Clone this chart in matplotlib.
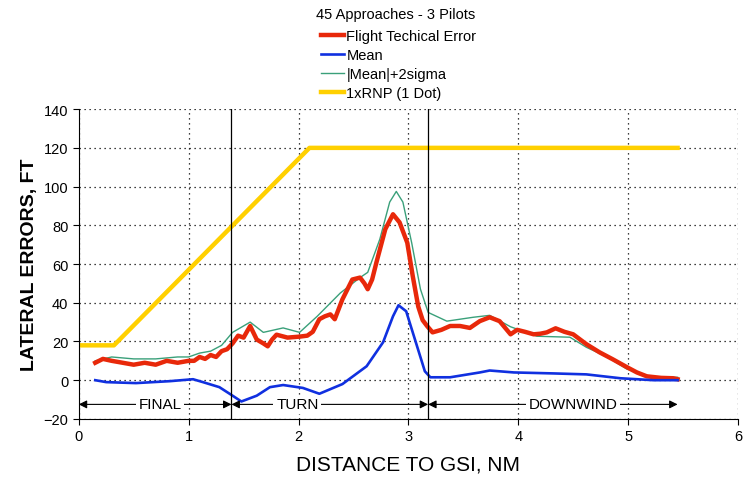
import matplotlib
matplotlib.use("Agg")
import matplotlib.pyplot as plt

plt.rcParams['font.family'] = ['Liberation Sans', 'DejaVu Sans']

# Flight Technical Error
fte_x = [0.15, 0.22, 0.3, 0.4, 0.5, 0.6, 0.7, 0.8, 0.9, 1.0, 1.05, 1.1, 1.15, 1.2, 1.25, 1.3, 1.35, 1.4, 1.45, 1.5, 1.56,
         1.62, 1.68, 1.72, 1.76, 1.8, 1.9, 2.01, 2.08, 2.13, 2.19, 2.24, 2.29, 2.33, 2.4, 2.49, 2.56, 2.6, 2.63, 2.67,
         2.71, 2.79, 2.86, 2.92, 2.99, 3.04, 3.09, 3.13, 3.17, 3.22, 3.3, 3.38, 3.47, 3.56, 3.65, 3.74, 3.83, 3.93,
         3.99, 4.06, 4.14, 4.2, 4.26, 4.34, 4.42, 4.5, 4.62, 4.74, 4.86, 4.99, 5.08, 5.17, 5.3, 5.41, 5.45]
fte_y = [9, 11, 10, 9, 8, 9, 8, 10, 9, 10, 10, 12, 11, 13, 12, 15, 16, 19, 23, 22, 28,
         21, 19, 17.5, 21, 23.5, 22, 22.5, 23, 25, 31.5, 33, 34, 31.5, 41.8, 52, 53, 50, 47, 52,
         61, 78, 85.7, 81.5, 71, 53.7, 38, 31, 28, 24.7, 26, 28, 28, 27, 30.5, 32.5, 30.5, 23.7,
         26, 25, 23.7, 24, 24.7, 26.8, 25, 23.7, 18.6, 14.4, 10.8, 6.7, 4, 2, 1.2, 1, 0.5]

# Mean
mean_x = [0.15, 0.25, 0.52, 0.83, 1.04, 1.13, 1.28, 1.4, 1.48, 1.62, 1.74, 1.86, 2.04, 2.19, 2.4, 2.62, 2.77, 2.86,
          2.91, 2.98, 3.06, 3.15, 3.2, 3.38, 3.65, 3.74, 3.96, 4.32, 4.62, 4.93, 5.23, 5.45]
mean_y = [0, -1, -1.5, -0.5, 0.5, -1, -3.6, -8, -11, -8, -3.6, -2.5, -4, -7, -2, 7.2, 19.6, 33,
          38.7, 35.6, 21, 4.6, 1.5, 1.5, 4, 5, 4, 3.5, 3, 1, 0, 0]

# |Mean|+2sigma
sig_x = [0.15, 0.3, 0.5, 0.7, 0.9, 1.0, 1.1, 1.2, 1.3, 1.4, 1.56, 1.68, 1.86, 2.01, 2.17, 2.38, 2.56, 2.63, 2.74,
         2.83, 2.89, 2.95, 3.03, 3.11, 3.18, 3.35, 3.59, 3.74, 3.93, 4.17, 4.47, 4.62, 4.81, 4.99, 5.23, 5.45]
sig_y = [10, 12, 11, 11, 12, 12, 14, 15, 18, 24.7, 30, 24.7, 27, 24.7, 33, 45, 53, 55.7, 72.8,
         92, 97.5, 92, 71, 47, 35, 30.5, 32.5, 33.5, 27.6, 22.7, 22.2, 17, 12, 5.7, 1.5, 1.5]

# 1xRNP (1 Dot)
rnp_x = [0.0, 0.32, 2.1, 5.45]
rnp_y = [18, 18, 120, 120]

phase_names = ["FINAL", "TURN", "DOWNWIND"]
phase_bounds = [0.0, 1.39, 3.18, 5.45]
phase_label_x = [0.74, 1.99, 4.5]

fig = plt.figure(figsize=(7.5, 4.81), dpi=100)
ax = fig.add_axes([0.105, 0.127, 0.879, 0.644])

l1, = ax.plot(fte_x, fte_y, color="#E8280A", lw=3.2, label="Flight Techical Error", zorder=4)
l2, = ax.plot(mean_x, mean_y, color="#1030E0", lw=1.9, label="Mean", zorder=5)
l3, = ax.plot(sig_x, sig_y, color="#3AA07A", lw=1.0, label="|Mean|+2sigma", zorder=3)
l4, = ax.plot(rnp_x, rnp_y, color="#FFD000", lw=3.2, label="1xRNP (1 Dot)", zorder=2)

ax.set_xlim(0, 6)
ax.set_ylim(-20, 140)
ax.set_xticks(range(0, 7))
ax.set_yticks(range(-20, 141, 20))
ax.grid(True, color="black", linestyle=(0, (1, 3)), linewidth=0.9)
ax.set_axisbelow(True)
for s in ["top", "right"]:
    ax.spines[s].set_visible(False)
ax.tick_params(labelsize=10.5, length=4)

for b in phase_bounds[1:3]:
    ax.axvline(b, color="black", lw=0.9, zorder=6)

arrow_y = -12.5
for name, a, b, lx in zip(phase_names, phase_bounds[:-1], phase_bounds[1:], phase_label_x):
    ax.annotate("", xy=(a, arrow_y), xytext=(b, arrow_y),
                arrowprops=dict(arrowstyle="<|-|>", color="black", lw=0.8,
                                mutation_scale=12, shrinkA=0, shrinkB=0), zorder=7)
    ax.text(lx, arrow_y, name, ha="center", va="center", fontsize=11,
            bbox=dict(facecolor="white", edgecolor="none", pad=2), zorder=8)

ax.set_xlabel("DISTANCE TO GSI, NM", fontsize=15, labelpad=8)
ax.set_ylabel("LATERAL ERRORS, FT", fontsize=14, fontweight="bold", labelpad=4)

fig.text(0.527, 0.968, "45 Approaches - 3 Pilots", ha="center", va="center", fontsize=10.5)
fig.legend(handles=[l1, l2, l3, l4], loc="upper left", bbox_to_anchor=(0.418, 0.952),
           frameon=False, fontsize=10.5, handlelength=1.6, handletextpad=0.15,
           labelspacing=0.33, borderpad=0)

fig.savefig("out.png", dpi=100)
